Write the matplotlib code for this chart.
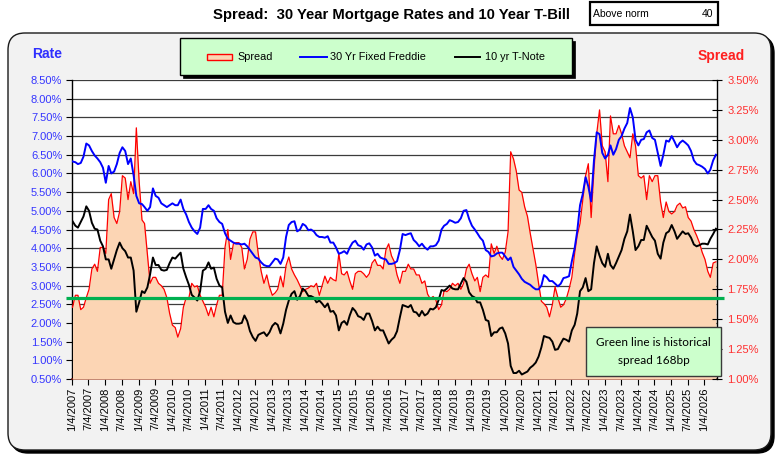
import numpy as np
import pandas as pd
import matplotlib
matplotlib.use("Agg")
import matplotlib.pyplot as plt
from matplotlib.patches import Rectangle, FancyBboxPatch
from matplotlib.lines import Line2D
from matplotlib.transforms import IdentityTransform, blended_transform_factory
from matplotlib.ticker import FuncFormatter

# ---------------- data (monthly readings, Jan 2007 .. May 2026) ----------------
first_month = "2007-01-01"

mortgage_30yr = [
    6.32, 6.30, 6.25, 6.28, 6.45, 6.80, 6.75, 6.60, 6.48, 6.40, 6.30, 6.15,  # 2007
    5.75, 6.20, 6.00, 6.05, 6.25, 6.55, 6.70, 6.60, 6.25, 6.40, 5.95, 5.40,  # 2008
    5.20, 5.18, 5.10, 5.00, 5.10, 5.60, 5.40, 5.35, 5.20, 5.15, 5.10, 5.15,  # 2009
    5.20, 5.15, 5.15, 5.30, 5.05, 4.90, 4.70, 4.55, 4.45, 4.38, 4.55, 5.05,  # 2010
    5.05, 5.15, 5.05, 5.00, 4.80, 4.70, 4.65, 4.40, 4.25, 4.20, 4.15, 4.12,  # 2011
    4.12, 4.10, 4.12, 4.05, 3.95, 3.85, 3.75, 3.72, 3.62, 3.55, 3.52, 3.52,  # 2012
    3.62, 3.72, 3.70, 3.58, 3.75, 4.30, 4.62, 4.70, 4.72, 4.45, 4.50, 4.65,  # 2013
    4.60, 4.48, 4.50, 4.45, 4.35, 4.30, 4.30, 4.28, 4.32, 4.15, 4.15, 4.02,  # 2014
    3.85, 3.88, 3.92, 3.85, 4.02, 4.15, 4.20, 4.08, 4.05, 3.96, 4.10, 4.13,  # 2015
    4.02, 3.80, 3.85, 3.75, 3.72, 3.70, 3.58, 3.58, 3.60, 3.65, 3.95, 4.38,  # 2016
    4.35, 4.38, 4.40, 4.22, 4.15, 4.05, 4.12, 4.02, 3.96, 4.05, 4.05, 4.08,  # 2017
    4.20, 4.50, 4.60, 4.65, 4.75, 4.72, 4.68, 4.70, 4.80, 5.00, 5.02, 4.78,  # 2018
    4.60, 4.50, 4.40, 4.28, 4.20, 3.95, 3.90, 3.78, 3.80, 3.86, 3.88, 3.88,  # 2019
    3.78, 3.68, 3.75, 3.50, 3.40, 3.30, 3.18, 3.10, 3.06, 3.02, 2.95, 2.90,  # 2020
    2.90, 3.00, 3.28, 3.22, 3.12, 3.12, 3.05, 2.98, 3.05, 3.20, 3.22, 3.25,  # 2021
    3.65, 4.00, 4.45, 5.15, 5.45, 5.90, 5.65, 5.25, 6.35, 7.10, 7.05, 6.55,  # 2022
    6.40, 6.50, 6.75, 6.50, 6.65, 6.90, 7.00, 7.20, 7.35, 7.75, 7.50, 6.90,  # 2023
    6.75, 6.90, 6.92, 7.10, 7.15, 6.95, 6.90, 6.55, 6.20, 6.50, 6.88, 6.85,  # 2024
    7.00, 6.85, 6.70, 6.82, 6.88, 6.82, 6.75, 6.60, 6.35, 6.25, 6.22, 6.18,  # 2025
    6.12, 6.00, 6.10, 6.35, 6.50,                                            # 2026
]

tnote_10yr = [
    4.72, 4.60, 4.55, 4.70, 4.85, 5.12, 5.00, 4.68, 4.52, 4.50, 4.20, 4.05,  # 2007
    3.70, 3.70, 3.45, 3.70, 3.95, 4.15, 4.00, 3.92, 3.75, 3.75, 3.40, 2.30,  # 2008
    2.55, 2.85, 2.80, 2.95, 3.30, 3.75, 3.55, 3.55, 3.42, 3.40, 3.42, 3.60,  # 2009
    3.75, 3.72, 3.80, 3.88, 3.45, 3.22, 3.02, 2.75, 2.68, 2.60, 2.85, 3.40,  # 2010
    3.45, 3.62, 3.45, 3.48, 3.18, 3.00, 2.95, 2.30, 2.00, 2.20, 2.02, 1.98,  # 2011
    1.98, 2.00, 2.20, 2.05, 1.78, 1.62, 1.52, 1.68, 1.72, 1.75, 1.65, 1.75,  # 2012
    1.92, 2.00, 1.95, 1.72, 1.98, 2.35, 2.60, 2.78, 2.85, 2.62, 2.72, 2.92,  # 2013
    2.85, 2.72, 2.72, 2.68, 2.55, 2.60, 2.52, 2.42, 2.52, 2.30, 2.32, 2.20,  # 2014
    1.80, 2.00, 2.05, 1.95, 2.20, 2.40, 2.32, 2.18, 2.15, 2.08, 2.25, 2.25,  # 2015
    2.05, 1.80, 1.90, 1.80, 1.80, 1.62, 1.45, 1.55, 1.62, 1.78, 2.15, 2.48,  # 2016
    2.45, 2.42, 2.48, 2.30, 2.28, 2.18, 2.32, 2.20, 2.25, 2.38, 2.36, 2.42,  # 2017
    2.62, 2.88, 2.86, 2.92, 3.00, 2.92, 2.90, 2.90, 3.05, 3.20, 3.10, 2.82,  # 2018
    2.72, 2.68, 2.55, 2.55, 2.35, 2.08, 2.05, 1.65, 1.75, 1.75, 1.85, 1.88,  # 2019
    1.72, 1.45, 0.85, 0.66, 0.66, 0.72, 0.62, 0.66, 0.70, 0.80, 0.86, 0.94,  # 2020
    1.10, 1.35, 1.65, 1.62, 1.60, 1.50, 1.28, 1.30, 1.45, 1.58, 1.55, 1.50,  # 2021
    1.80, 1.95, 2.25, 2.85, 2.95, 3.20, 2.85, 2.90, 3.60, 4.05, 3.80, 3.60,  # 2022
    3.50, 3.85, 3.55, 3.45, 3.60, 3.78, 3.95, 4.25, 4.45, 4.90, 4.45, 3.95,  # 2023
    4.05, 4.22, 4.22, 4.60, 4.45, 4.30, 4.20, 3.85, 3.72, 4.15, 4.40, 4.45,  # 2024
    4.62, 4.45, 4.25, 4.35, 4.45, 4.38, 4.40, 4.28, 4.10, 4.05, 4.08, 4.12,  # 2025
    4.12, 4.10, 4.25, 4.38, 4.52,                                            # 2026
]

historical_spread = 1.68          # green line (168bp)
above_norm = 40

title = "Spread:  30 Year Mortgage Rates and 10 Year T-Bill"
legend_labels = ["Spread", "30 Yr Fixed Freddie", "10 yr T-Note"]
note_text = ["Green line is historical", "spread 168bp"]

left_ticks = [0.5, 1.0, 1.5, 2.0, 2.5, 3.0, 3.5, 4.0, 4.5, 5.0, 5.5, 6.0, 6.5, 7.0, 7.5, 8.0, 8.5]
right_ticks = [1.00, 1.25, 1.50, 1.75, 2.00, 2.25, 2.50, 2.75, 3.00, 3.25, 3.50]
tick_dates = pd.to_datetime([f"{y}-{m:02d}-04" for y in range(2007, 2027) for m in (1, 7)][:-1])
tick_labels = [f"{d.month}/{d.day}/{d.year}" for d in tick_dates]

dates = pd.date_range(first_month, periods=len(mortgage_30yr), freq="MS") + pd.Timedelta(days=9)
mortgage = np.array(mortgage_30yr)
tnote = np.array(tnote_10yr)
spread = mortgage - tnote

# ---------------- figure ----------------
W, H = 781, 468
plt.rcParams['font.family'] = ['Liberation Sans', 'DejaVu Sans']
fig = plt.figure(figsize=(W / 100, H / 100), dpi=100)
fig.patch.set_facecolor('white')
ident = IdentityTransform()

def px(x, y):
    return (x, H - y)

# outer rounded frame with shadow
fig.add_artist(FancyBboxPatch(px(11, 453), 763, 417, boxstyle="round,pad=0,rounding_size=17",
                              transform=ident, fc='black', ec='black', lw=1, zorder=-3))
fig.add_artist(FancyBboxPatch(px(8, 450), 763, 417, boxstyle="round,pad=0,rounding_size=17",
                              transform=ident, fc='#F2F2F2', ec='#1a1a1a', lw=1.0, zorder=-2))

# axes
rect = [72 / W, 1 - 379 / H, (717 - 72) / W, (379 - 80) / H]
ax = fig.add_axes(rect)
ax.set_facecolor('white')
ax2 = ax.twinx()
ax3 = ax.twinx()

xmin, xmax = pd.Timestamp("2007-01-04"), pd.Timestamp("2026-05-22")
ax.set_xlim(xmin, xmax)

# grid (bottom layer)
ax.set_ylim(0.5, 8.5)
ax.set_yticks(left_ticks)
ax.yaxis.grid(True, color='#3c3c3c', lw=0.9)
ax.set_axisbelow(True)
ax.yaxis.set_major_formatter(FuncFormatter(lambda v, p: f"{v:.2f}%"))
ax.tick_params(axis='y', labelcolor='#3535FF', color='black', length=4, width=0.8,
               direction='out', pad=3, labelsize=8)
ax.set_xticks(tick_dates)
ax.set_xticklabels(tick_labels, rotation=90)
ax.tick_params(axis='x', length=4, width=0.8, direction='out', labelsize=8, pad=2, color='black')
for s in ['top', 'right']:
    ax.spines[s].set_visible(False)
ax.spines['left'].set_color('black')
ax.spines['left'].set_linewidth(1.0)
ax.spines['bottom'].set_color('#7a1a10')
ax.spines['bottom'].set_linewidth(1.2)

# spread area (middle layer, right axis)
ax2.fill_between(dates, spread, right_ticks[0], color='#FCD5B4', lw=0)
ax2.plot(dates, spread, color='#FF0000', lw=0.9)
ax2.set_ylim(1.0, 3.5)
ax2.set_yticks(right_ticks)
ax2.yaxis.set_major_formatter(FuncFormatter(lambda v, p: f"{v:.2f}%"))
ax2.tick_params(axis='y', labelcolor='#FF3030', color='black', length=7, width=0.8,
                direction='inout', pad=4, labelsize=8)
for s in ['top', 'left', 'bottom']:
    ax2.spines[s].set_visible(False)
ax2.spines['right'].set_color('black')
ax2.spines['right'].set_linewidth(1.0)

# rate lines (top layer, left scale)
ax3.plot(dates, mortgage, color='#0000FF', lw=1.4)
ax3.plot(dates, tnote, color='black', lw=1.4)
ax3.set_ylim(0.5, 8.5)
ax3.yaxis.set_visible(False)
for s in ax3.spines.values():
    s.set_visible(False)

# historical spread green line (extends past the plot area)
gtrans = blended_transform_factory(ident, ax2.transData)
fig.add_artist(Line2D([66, 724], [historical_spread, historical_spread], transform=gtrans,
                      color='#00B050', lw=2.3, zorder=4, solid_capstyle='butt'))

# note box
fig.add_artist(Rectangle(px(586, 376), 135, 49, transform=ident, fc='#CCFFCC', ec='#3a3a3a',
                         lw=1.0, zorder=5))
fig.text(653.5 / W, 1 - 343 / H, note_text[0], ha='center', va='center', fontsize=8.5,
         family=['Lato', 'DejaVu Sans'], zorder=6)
fig.text(653.5 / W, 1 - 361 / H, note_text[1], ha='center', va='center', fontsize=8.5,
         family=['Lato', 'DejaVu Sans'], zorder=6)

# axis titles
fig.text(47 / W, 1 - 54 / H, "Rate", ha='center', va='center', fontsize=10, fontweight='bold',
         color='#2F2FFF')
fig.text(721 / W, 1 - 56 / H, "Spread", ha='center', va='center', fontsize=10, fontweight='bold',
         color='#FF2020')

# title and "Above norm" box
fig.text(391 / W, 1 - 15 / H, title, ha='center', va='center', fontsize=10.7, fontweight='bold')
fig.add_artist(Rectangle(px(590, 25), 128, 23, transform=ident, fc='white', ec='black', lw=1.6,
                         zorder=3))
fig.text(593 / W, 1 - 14 / H, "Above norm", ha='left', va='center', fontsize=7.5, zorder=4)
fig.text(713 / W, 1 - 14 / H, f"{above_norm}", ha='right', va='center', fontsize=7.5, zorder=4)

# legend (drawn as a box with handles)
fig.add_artist(Rectangle(px(183, 78), 392, 37, transform=ident, fc='black', ec='black', lw=0.5,
                         zorder=3))
fig.add_artist(Rectangle(px(180, 75), 392, 37, transform=ident, fc='#CCFFCC', ec='black', lw=1.0,
                         zorder=4))
fig.add_artist(Rectangle(px(207, 60), 25, 6, transform=ident, fc='#FCD5B4', ec='#FF0000', lw=1.0,
                         zorder=5))
fig.add_artist(Line2D([300, 327], [H - 57, H - 57], transform=ident, color='#0000FF', lw=1.4, zorder=5))
fig.add_artist(Line2D([455, 480], [H - 57, H - 57], transform=ident, color='black', lw=1.4, zorder=5))
for xt, lab in zip([237, 330, 485], legend_labels):
    fig.text(xt / W, 1 - 57 / H, lab, ha='left', va='center', fontsize=7.8, zorder=6)

fig.savefig("out.png", dpi=100)
